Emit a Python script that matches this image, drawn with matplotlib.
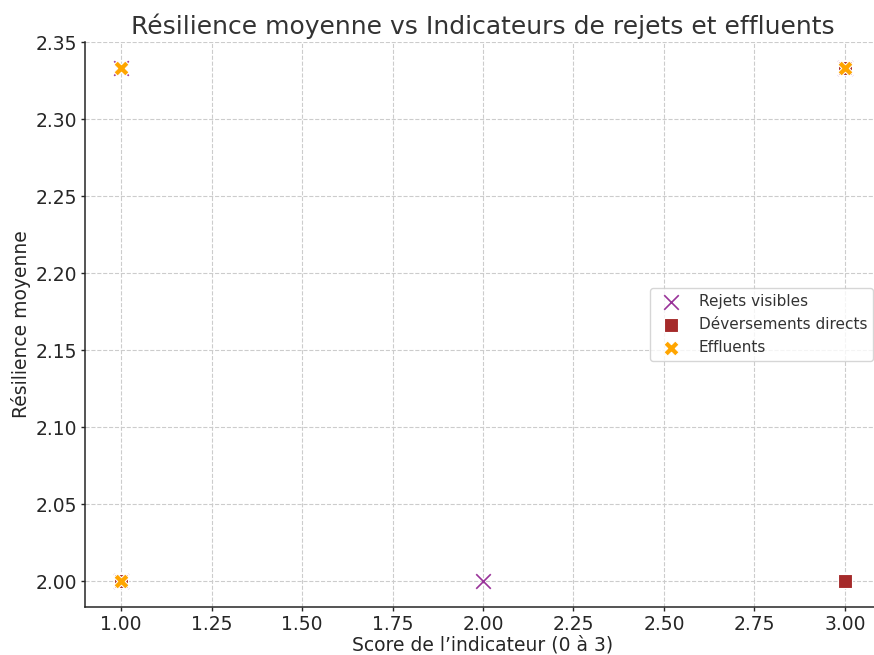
import matplotlib
matplotlib.use("Agg")
import matplotlib.pyplot as plt

rejets_x = [1, 2, 3, 1]
rejets_y = [2.3333, 2.0, 2.3333, 2.0]
dever_x = [3, 3, 1]
dever_y = [2.0, 2.3333, 2.0]
efflu_x = [1, 3, 1]
efflu_y = [2.3333, 2.3333, 2.0]

plt.rcParams['font.family'] = ['DejaVu Sans']
fig = plt.figure(figsize=(8.74, 6.55), dpi=100)
ax = fig.add_axes([85/874, 48/655, 796/874, 565/655])

ax.scatter(rejets_x, rejets_y, marker='x', s=110, color='#993399', linewidths=1.2,
           label='Rejets visibles', zorder=3)
ax.scatter(dever_x, dever_y, marker='s', s=100, color='#a52a2a', edgecolors='white',
           linewidths=0.8, label='Déversements directs', zorder=3)
ax.scatter(efflu_x, efflu_y, marker='X', s=120, color='#ffa500', edgecolors='white',
           linewidths=0.8, label='Effluents', zorder=4)

ax.set_xlim(0.9, 3.1)
ax.set_ylim(1.9833, 2.35)
xt = [1.0, 1.25, 1.5, 1.75, 2.0, 2.25, 2.5, 2.75, 3.0]
yt = [2.0, 2.05, 2.1, 2.15, 2.2, 2.25, 2.3, 2.35]
ax.set_xticks(xt)
ax.set_xticklabels([f"{v:.2f}" for v in xt])
ax.set_yticks(yt)
ax.set_yticklabels([f"{v:.2f}" for v in yt])

ax.grid(True, linestyle='--', color='#cccccc', linewidth=0.8)
ax.set_axisbelow(True)
for s in ['top', 'right']:
    ax.spines[s].set_visible(False)
for s in ['left', 'bottom']:
    ax.spines[s].set_color('#262626')
    ax.spines[s].set_linewidth(1.1)
ax.tick_params(labelsize=13.5, colors='#262626', length=3, pad=3, width=1.0)

ax.set_title('Résilience moyenne vs Indicateurs de rejets et effluents', fontsize=18,
             color='#333333', pad=6)
ax.set_xlabel('Score de l\u2019indicateur (0 à 3)', fontsize=13.5, color='#262626', labelpad=1)
ax.set_ylabel('Résilience moyenne', fontsize=13.5, color='#262626', labelpad=3)

leg = ax.legend(loc='center right', fontsize=11, frameon=True)
for t in leg.get_texts():
    t.set_color('#333333')

fig.savefig('out.png', dpi=100)
